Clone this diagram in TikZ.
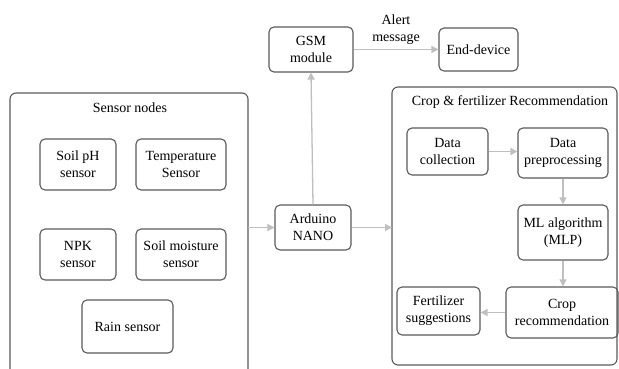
\documentclass[tikz,border=0pt]{standalone}
\usepackage{fontspec}
\setmainfont{Liberation Serif}
\usepackage{tikz}
\usetikzlibrary{arrows.meta}
\newcommand{\makeblock}[5]{
	\node[block, minimum width=#3, minimum height=#4] (#1) at (#2) {#5};
}
\tikzset{
	block/.style={draw=black!65, line width=1.1pt, rounded corners=5pt, align=center,
		inner sep=1pt, font=\fontsize{14}{17}\selectfont},
	group/.style={draw=black!65, line width=1.1pt, rounded corners=6pt},
	flow/.style={draw=black!25, line width=1.3pt, -{Triangle[length=7pt,width=7pt]}},
	title/.style={font=\fontsize{14}{17}\selectfont}
}

\begin{document}
\begin{tikzpicture}[x=1pt,y=-1pt]
	\useasboundingbox (0,0) rectangle (619,369);
	\coordinate (SW) at (10,93);
	\coordinate (SE) at (248,380);
	\coordinate (CW) at (392,87);
	\coordinate (CE) at (617,365);

	\draw[group] (SW) rectangle (SE);
	\draw[group] (CW) rectangle (CE);
	\node[title] (sensortitle) at (130,108) {Sensor nodes};
	\node[title] (croptitle) at (510,102) {Crop \& fertilizer Recommendation};

	\makeblock{soilph}{78,164.5}{76pt}{51pt}{Soil pH\\sensor}
	\makeblock{temp}{181,164.5}{90pt}{51pt}{Temperature\\Sensor}
	\makeblock{npk}{78,254.5}{76pt}{51pt}{NPK\\sensor}
	\makeblock{moist}{181,254.5}{90pt}{51pt}{Soil moisture\\sensor}
	\makeblock{rain}{127.5,326.5}{91pt}{53pt}{Rain sensor}

	\makeblock{arduino}{313,227.5}{76pt}{45pt}{Arduino\\NANO}
	\makeblock{gsm}{311,49.5}{84pt}{45pt}{GSM\\module}
	\makeblock{enddev}{478.5,49.5}{79pt}{43pt}{End-device}

	\makeblock{datacol}{447.5,151.5}{81pt}{47pt}{Data\\collection}
	\makeblock{dataprep}{563,153}{90pt}{50pt}{Data\\preprocessing}
	\makeblock{ml}{563,232.5}{90pt}{55pt}{ML algorithm\\(MLP)}
	\makeblock{croprec}{562,312.5}{112pt}{51pt}{Crop\\recommendation}
	\makeblock{fert}{438.5,311}{83pt}{48pt}{Fertilizer\\suggestions}

	\coordinate (sensorout) at (SE |- arduino.west);
	\coordinate (cropin) at (CW |- arduino.east);

	\draw[flow] (sensorout) -- (arduino.west);
	\draw[flow] (arduino.east) -- (cropin);
	\draw[flow] (arduino.north) -- (gsm.south);
	\draw[flow] (gsm.east) -- node[above, title, align=center, yshift=1pt] {Alert\\message} (enddev.west);
	\draw[flow] (datacol.east) -- (datacol.east -| dataprep.west);
	\draw[flow] (dataprep.south) -- (ml.north);
	\draw[flow] (ml.south) -- (ml.south |- croprec.north);
	\draw[flow] (croprec.west) -- (croprec.west -| fert.east);
\end{tikzpicture}
\end{document}
